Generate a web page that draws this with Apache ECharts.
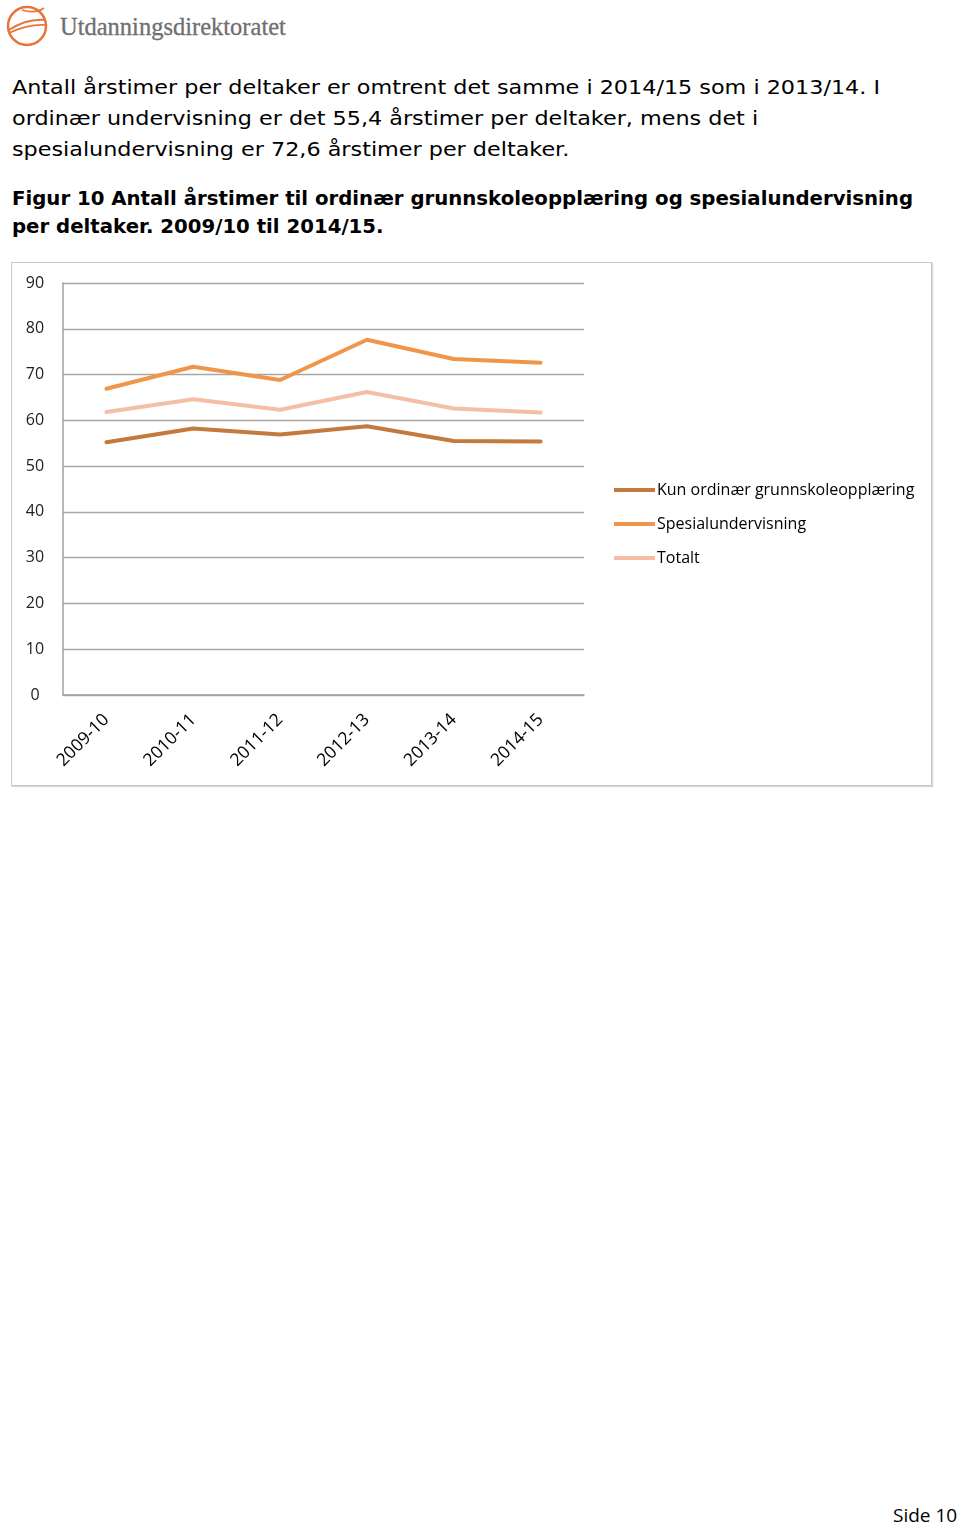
<!DOCTYPE html>
<html>
<head>
<meta charset="utf-8">
<script src="https://cdn.jsdelivr.net/npm/echarts@6/dist/echarts.min.js"></script>
<style>
  html, body { margin: 0; padding: 0; background: #fff; }
  body { width: 960px; height: 1526px; position: relative; overflow: hidden; }
  .p { position: absolute; left: 12px; font-family: "DejaVu Sans", Verdana, sans-serif; color: #000; white-space: nowrap; transform-origin: 0 0; }
  .p span { display: block; }
  #intro { top: 72px; font-size: 19.6px; line-height: 31px; }
  #fig { top: 185px; font-size: 18.6px; line-height: 28px; font-weight: bold; }
  #chartbox { position: absolute; left: 11px; top: 262px; width: 919px; height: 522px; border: 1px solid #c8c8c8; box-shadow: 1px 1px 1px #d8d8d8; }
  #chart { width: 919px; height: 522px; }
  #side { position: absolute; left: 893px; top: 1502px; font-family: "Open Sans", sans-serif; font-size: 19px; color: #000; }
  #logo { position: absolute; left: 0; top: 0; }
</style>
</head>
<body>
<svg id="logo" width="300" height="50">
  <circle cx="27" cy="26" r="19" fill="none" stroke="#e8743b" stroke-width="2.5"/>
  <path d="M9 30 Q27 18 46 20" fill="none" stroke="#e8743b" stroke-width="2"/>
  <path d="M9 33 Q28 24 46 25" fill="none" stroke="#e8743b" stroke-width="1.6"/>
  <path d="M22 10 Q36 14 44 8" fill="none" stroke="#e8743b" stroke-width="1.6"/>
  <text x="60" y="35" font-family="Liberation Serif, DejaVu Serif, serif" font-size="24.5" fill="#6f6f6f" stroke="#6f6f6f" stroke-width="0.3">Utdanningsdirektoratet</text>
</svg>
<div class="p" id="intro"><span data-w="868">Antall årstimer per deltaker er omtrent det samme i 2014/15 som i 2013/14. I</span><span>ordinær undervisning er det 55,4 årstimer per deltaker, mens det i</span><span>spesialundervisning er 72,6 årstimer per deltaker.</span></div>
<div class="p" id="fig"><span data-w="901">Figur 10 Antall årstimer til ordinær grunnskoleopplæring og spesialundervisning</span><span>per deltaker. 2009/10 til 2014/15.</span></div>
<div id="chartbox"><div id="chart"></div></div>
<div id="side">Side 10</div>
<script>
// stretch paragraphs horizontally so the first line matches the reference width
document.querySelectorAll('.p').forEach(p => {
  const first = p.querySelector('span[data-w]');
  const target = +first.dataset.w;
  const r = document.createRange(); r.selectNodeContents(first);
  const w = r.getBoundingClientRect().width;
  p.style.transform = 'scaleX(' + (target / w) + ')';
});

const categories = ['2009-10', '2010-11', '2011-12', '2012-13', '2013-14', '2014-15'];
const kunOrdinaer = [55.2, 58.2, 56.9, 58.7, 55.5, 55.4];
const spesial = [66.9, 71.7, 68.8, 77.6, 73.4, 72.6];
const totalt = [61.8, 64.6, 62.3, 66.2, 62.6, 61.7];
const seriesNames = ['Kun ordinær grunnskoleopplæring', 'Spesialundervisning', 'Totalt'];
const yTicks = { min: 0, max: 90, interval: 10 };

const colors = ['#c47a3d', '#f0964a', '#f4bfa4'];
const chart = echarts.init(document.getElementById('chart'), null, { renderer: 'canvas' });
const mk = (name, data, color) => ({
  name, type: 'line', data, symbol: 'none', smooth: false,
  lineStyle: { color, width: 4, cap: 'round', join: 'round' },
  itemStyle: { color }, emphasis: { disabled: true }, animation: false
});
chart.setOption({
  animation: false,
  textStyle: { fontFamily: 'Open Sans' },
  grid: { left: 51, top: 20, width: 521, height: 412, containLabel: false },
  legend: {
    orient: 'vertical', left: 597, top: 214, itemGap: 18,
    itemWidth: 41, itemHeight: 4, icon: 'rect',
    textStyle: { fontFamily: 'Open Sans', fontSize: 16, color: '#000', padding: [0,0,0,-3] },
    data: seriesNames.map((n, i) => ({ name: n, itemStyle: { color: colors[i] } }))
  },
  xAxis: {
    type: 'category', data: categories, boundaryGap: true,
    axisLine: { lineStyle: { color: '#a0a0a0', width: 1.5 } },
    axisTick: { show: false },
    axisLabel: { rotate: 45, fontFamily: 'Open Sans', fontSize: 17.5, color: '#000', margin: 22, interval: 0 }
  },
  yAxis: {
    type: 'value', min: yTicks.min, max: yTicks.max, interval: yTicks.interval,
    axisLine: { show: true, lineStyle: { color: '#a0a0a0', width: 1.5 } },
    axisTick: { show: false },
    splitLine: { lineStyle: { color: '#a6a6a6', width: 1.3 } },
    axisLabel: { fontFamily: 'Open Sans', fontSize: 16, color: '#222', margin: 28, align: 'center' }
  },
  series: [mk(seriesNames[0], kunOrdinaer, colors[0]), mk(seriesNames[1], spesial, colors[1]), mk(seriesNames[2], totalt, colors[2])]
});
</script>
</body>
</html>
